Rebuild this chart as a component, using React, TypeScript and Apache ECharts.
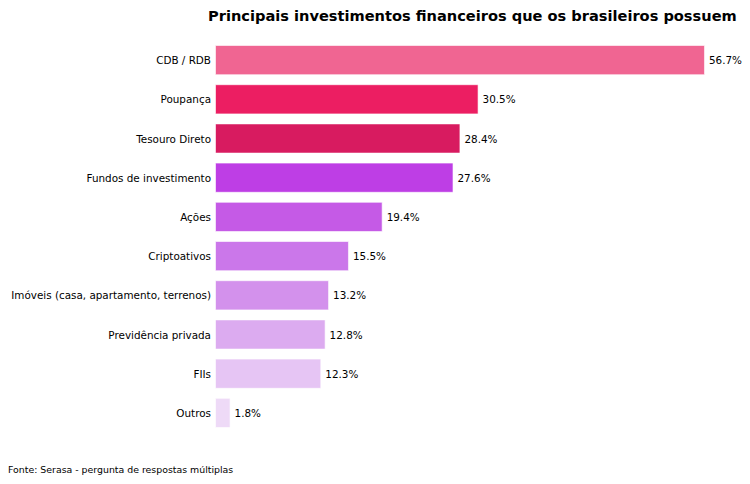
import React, { useEffect, useRef } from "react";
import * as echarts from "echarts";

const categories = [
  "CDB / RDB",
  "Poupança",
  "Tesouro Direto",
  "Fundos de investimento",
  "Ações",
  "Criptoativos",
  "Imóveis (casa, apartamento, terrenos)",
  "Previdência privada",
  "FIIs",
  "Outros",
];
const values = [56.7, 30.5, 28.4, 27.6, 19.4, 15.5, 13.2, 12.8, 12.3, 1.8];
const colors = [
  "#f06592",
  "#ec1e62",
  "#d81b60",
  "#be3ee5",
  "#c55ae6",
  "#cb77ea",
  "#d391ec",
  "#dcabf0",
  "#e6c5f4",
  "#eedaf7",
];
const title = "Principais investimentos financeiros que os brasileiros possuem";
const footnote = "Fonte: Serasa - pergunta de respostas múltiplas";

export default function App() {
  const ref = useRef<HTMLDivElement>(null);
  useEffect(() => {
    if (!ref.current) return;
    const chart = echarts.init(ref.current, null, { renderer: "svg" });
    const font = "DejaVu Sans";
    chart.setOption({
      animation: false,
      backgroundColor: "#ffffff",
      textStyle: { fontFamily: font },
      title: {
        text: title,
        left: 203,
        top: 3,
        textStyle: { fontFamily: font, fontSize: 14.6, fontWeight: "bold", color: "#000" },
      },
      graphic: [
        {
          type: "text",
          left: 8,
          top: 465,
          style: { text: footnote, fontFamily: font, fontSize: 9.4, fill: "#000" },
        },
      ],
      grid: { left: 215, top: 40.5, width: 518.5, height: 392, containLabel: false },
      xAxis: {
        type: "value",
        min: 0,
        max: 60,
        show: false,
      },
      yAxis: {
        type: "category",
        data: categories,
        inverse: true,
        axisLine: { show: false },
        axisTick: { show: false },
        axisLabel: { fontFamily: font, fontSize: 10.4, color: "#000", margin: 4 },
      },
      series: [
        {
          type: "bar",
          data: values.map((v, i) => ({ value: v, itemStyle: { color: colors[i] } })),
          barCategoryGap: "23%",
          itemStyle: { borderColor: "rgba(255,255,255,0.6)", borderWidth: 1 },
          label: {
            show: true,
            position: "right",
            distance: 4,
            formatter: (p: any) => p.value.toFixed(1) + "%",
            fontFamily: font,
            fontSize: 10.4,
            color: "#000",
          },
        },
      ],
    });
    return () => chart.dispose();
  }, []);
  return <div ref={ref} style={{ width: 750, height: 484, position: "absolute", left: 0, top: 0 }} />;
}
